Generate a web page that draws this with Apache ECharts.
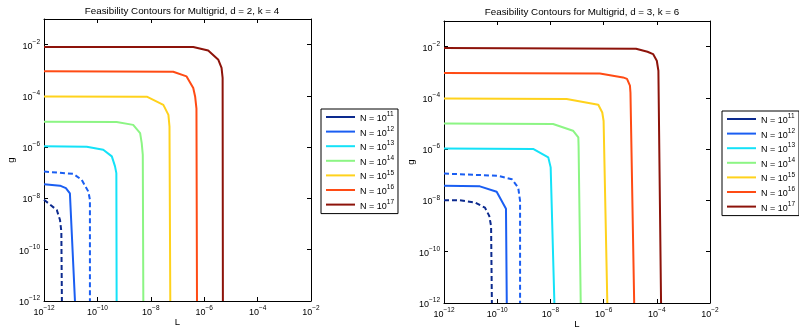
<!DOCTYPE html>
<html>
<head>
<meta charset="utf-8">
<script src="https://cdn.jsdelivr.net/npm/echarts@6/dist/echarts.min.js"></script>
<style>
  html, body { margin: 0; padding: 0; background: #fff; }
  #chart { width: 799px; height: 327px; }
</style>
</head>
<body>
<div id="chart"></div>
<script>
const EXPONENTS = [11, 12, 13, 14, 15, 16, 17];
const COLORS = ['#0c2a8e', '#1a5ef2', '#14e2f8', '#8cf584', '#ffd21c', '#ff4b14', '#8d130a'];
const TITLES = ['Feasibility Contours for Multigrid, d = 2, k = 4', 'Feasibility Contours for Multigrid, d = 3, k = 6'];
const TICK_EXPONENTS = [-12, -10, -8, -6, -4, -2];

// contour points as [log10 L, log10 g]
const d2N11 = [];
const d2N12 = [[-12, -7.45], [-11.4, -7.5], [-11.18, -7.6], [-11.03, -7.8], [-10.84, -12]];
const d2N13 = [[-12, -5.96], [-10.4, -5.98], [-9.78, -6.1], [-9.46, -6.36], [-9.34, -6.75], [-9.29, -7.01], [-9.28, -12]];
const d2N14 = [[-12, -5.01], [-9.28, -5.02], [-8.66, -5.13], [-8.4, -5.45], [-8.34, -5.84], [-8.3, -6.3], [-8.28, -12]];
const d2N15 = [[-12, -4.02], [-8.15, -4.03], [-7.53, -4.35], [-7.34, -4.74], [-7.3, -5.2], [-7.27, -12]];
const d2N16 = [[-12, -3.04], [-7.16, -3.06], [-6.66, -3.24], [-6.41, -3.69], [-6.34, -4.02], [-6.29, -4.5], [-6.27, -12]];
const d2N17 = [[-12, -2.09], [-6.41, -2.09], [-5.85, -2.23], [-5.47, -2.59], [-5.35, -2.91], [-5.31, -3.3], [-5.3, -12]];
const d2N11Dash = [[-12, -8.05], [-11.52, -8.45], [-11.4, -8.84], [-11.35, -9.3], [-11.33, -12]];
const d2N12Dash = [[-12, -6.95], [-10.9, -7.04], [-10.59, -7.27], [-10.34, -7.73], [-10.28, -8.05], [-10.28, -12]];

const d3N11 = [];
const d3N12 = [[-12, -7.43], [-10.65, -7.45], [-10.02, -7.66], [-9.67, -8.32], [-9.64, -12]];
const d3N13 = [[-12, -5.97], [-8.65, -5.99], [-8.08, -6.32], [-7.99, -6.71], [-7.85, -12]];
const d3N14 = [[-12, -5.0], [-7.9, -5.02], [-7.15, -5.28], [-6.95, -5.54], [-6.94, -5.9], [-6.86, -12]];
const d3N15 = [[-12, -4.02], [-7.39, -4.04], [-6.2, -4.27], [-6.05, -4.57], [-6.0, -4.9], [-5.86, -12]];
const d3N16 = [[-12, -3.03], [-6.14, -3.05], [-5.27, -3.2], [-5.12, -3.26], [-5.01, -3.52], [-4.99, -3.8], [-4.85, -12]];
const d3N17 = [[-12, -2.05], [-4.78, -2.08], [-4.35, -2.2], [-4.14, -2.29], [-4.0, -2.55], [-3.94, -2.94], [-3.84, -12]];
const d3N11Dash = [[-12, -7.99], [-11.4, -7.99], [-10.83, -8.08], [-10.46, -8.28], [-10.3, -8.6], [-10.23, -9.0], [-10.2, -12]];
const d3N12Dash = [[-12, -6.95], [-9.96, -7.04], [-9.45, -7.17], [-9.21, -7.5], [-9.14, -8.02], [-9.14, -12]];

const PANELS = [
  { solid: [d2N11, d2N12, d2N13, d2N14, d2N15, d2N16, d2N17], dashed: [d2N11Dash, d2N12Dash] },
  { solid: [d3N11, d3N12, d3N13, d3N14, d3N15, d3N16, d3N17], dashed: [d3N11Dash, d3N12Dash] },
];

const FONT = 'Liberation Sans';
const GRIDS = [
  { left: 44, top: 19, width: 267, height: 282 },
  { left: 444, top: 21, width: 266, height: 282 },
];
const LEGEND_POS = [{ left: 321, top: 109 }, { left: 722, top: 111 }];
const TITLE_POS = [{ left: 177, top: 1 }, { left: 577, top: 2 }];

const SUP_RICH = {
  b: { fontSize: 9, fontFamily: FONT, color: '#000', lineHeight: 12, verticalAlign: 'bottom' },
  sup: { fontSize: 6.5, fontFamily: FONT, color: '#000', lineHeight: 12, verticalAlign: 'top' },
};

const toPoints = (pairs) => pairs.map(([lx, lg]) => [Math.pow(10, lx), Math.pow(10, lg)]);

const powerLabel = (value) => {
  const e = Math.round(Math.log10(value));
  if (!TICK_EXPONENTS.includes(e)) return '';
  return `{b|10}{sup|−${Math.abs(e)}}`;
};

const AXIS_LINE = { show: true, lineStyle: { color: '#000', width: 1 } };
const AXIS_TICK = { show: true, inside: true, length: 4, lineStyle: { color: '#000', width: 1 } };

const logAxis = (gridIndex, position, min, max, showLabel, name) => ({
  type: 'log',
  logBase: 10,
  gridIndex,
  position,
  min,
  max,
  interval: 2,
  axisLine: AXIS_LINE,
  axisTick: AXIS_TICK,
  minorTick: { show: false },
  splitLine: { show: false },
  axisLabel: showLabel
    ? { show: true, margin: 4, formatter: powerLabel, rich: SUP_RICH, showMaxLabel: true, showMinLabel: true }
    : { show: false },
  name: name || '',
  nameLocation: 'middle',
  nameMoveOverlap: false,
  nameGap: position === 'left' ? 28 : 16,
  nameTextStyle: { fontSize: 9.5, fontFamily: FONT, color: '#000' },
});

const xAxes = [];
const yAxes = [];
const series = [];
const legends = [];
const titles = [];

PANELS.forEach((panel, p) => {
  xAxes.push(logAxis(p, 'bottom', 1e-12, 1e-2, true, 'L'));
  xAxes.push(logAxis(p, 'top', 1e-12, 1e-2, false));
  yAxes.push(logAxis(p, 'left', 1e-12, 1e-1, true, 'g'));
  yAxes.push(logAxis(p, 'right', 1e-12, 1e-1, false));

  panel.solid.forEach((pairs, i) => {
    series.push({
      name: String(EXPONENTS[i]),
      type: 'line',
      xAxisIndex: p * 2,
      yAxisIndex: p * 2,
      data: toPoints(pairs),
      symbol: 'none',
      color: COLORS[i],
      lineStyle: { width: 2, color: COLORS[i] },
      animation: false,
    });
  });
  panel.dashed.forEach((pairs, i) => {
    series.push({
      name: EXPONENTS[i] + ' alt',
      type: 'line',
      xAxisIndex: p * 2,
      yAxisIndex: p * 2,
      data: toPoints(pairs),
      symbol: 'none',
      color: COLORS[i],
      lineStyle: { width: 2, color: COLORS[i], type: [5, 3] },
      animation: false,
    });
  });

  legends.push({
    ...LEGEND_POS[p],
    orient: 'vertical',
    data: EXPONENTS.map(String),
    icon: 'rect',
    itemWidth: 29,
    itemHeight: 2,
    itemGap: 2.6,
    padding: [2, 4, 3, 5],
    borderColor: '#000',
    borderWidth: 1,
    backgroundColor: '#fff',
    selectedMode: false,
    formatter: (name) => `{b|N = 10}{sup|${name}}`,
    textStyle: { fontSize: 9, fontFamily: FONT, color: '#000', rich: SUP_RICH },
  });

  titles.push({
    text: TITLES[p],
    ...TITLE_POS[p],
    textAlign: 'center',
    textStyle: { fontSize: 9.8, fontWeight: 'normal', fontFamily: FONT, color: '#000' },
  });
});

const chart = echarts.init(document.getElementById('chart'), null, { renderer: 'canvas' });
chart.setOption({
  backgroundColor: '#fff',
  animation: false,
  title: titles,
  grid: GRIDS.map((g) => ({ ...g, show: false, outerBoundsMode: 'none' })),
  xAxis: xAxes,
  yAxis: yAxes,
  legend: legends,
  series,
});
</script>
</body>
</html>
